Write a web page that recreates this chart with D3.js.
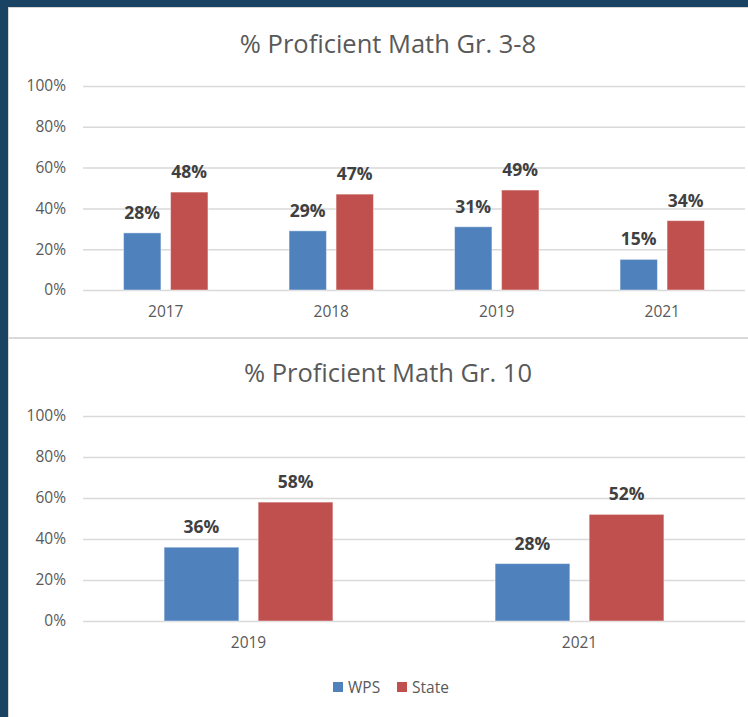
<!DOCTYPE html>
<html>
<head>
<meta charset="utf-8">
<script src="https://cdn.jsdelivr.net/npm/d3@7"></script>
<style>
  html, body { margin: 0; padding: 0; background: #fff; }
  svg { display: block; }
  text { font-family: "Open Sans", "Noto Sans", sans-serif; }
</style>
</head>
<body>
<svg id="chart" width="748" height="717"></svg>
<script>
// ---- data ----
const series = ["WPS", "State"];
const colors = ["#4f81bd", "#c0504d"];

const title1 = "% Proficient Math Gr. 3-8";
const years1 = ["2017", "2018", "2019", "2021"];
const wps1 = [28, 29, 31, 15];
const state1 = [48, 47, 49, 34];

const title2 = "% Proficient Math Gr. 10";
const years2 = ["2019", "2021"];
const wps2 = [36, 28];
const state2 = [58, 52];

const yTicks = [0, 20, 40, 60, 80, 100];

// ---- drawing ----
const svg = d3.select("#chart");
const W = 748, H = 717;

// frame
svg.append("rect").attr("x", 0).attr("y", 0).attr("width", W).attr("height", H).attr("fill", "#1a4263");
svg.append("rect").attr("x", 8).attr("y", 7).attr("width", W - 8).attr("height", H - 7).attr("fill", "#d6d6d6");
svg.append("rect").attr("x", 9).attr("y", 8).attr("width", W - 9).attr("height", H - 8).attr("fill", "#ffffff");

// separator between charts
svg.append("rect").attr("x", 9).attr("y", 337).attr("width", W - 9).attr("height", 2).attr("fill", "#d9d9d9");

const axisFont = 15.5;

function drawChart(opts) {
  const { title, titleY, years, wps, state, y0, y1, x0, x1 } = opts;
  const g = svg.append("g");

  g.append("text")
    .attr("x", 388).attr("y", titleY)
    .attr("text-anchor", "middle")
    .attr("fill", "#595959")
    .attr("font-size", 25.5)
    .text(title);

  const y = d3.scaleLinear().domain([0, 100]).range([y0, y1]);
  const x = d3.scaleBand().domain(years).range([x0, x1]).paddingInner(0.49).paddingOuter(0.245);
  const xs = d3.scaleBand().domain(series).range([0, x.bandwidth()]).paddingInner(0.205);

  // gridlines + y labels via axis
  const yAxis = d3.axisLeft(y)
    .tickValues(yTicks)
    .tickSize(-(x1 - x0))
    .tickPadding(17)
    .tickFormat(d => d + "%");
  const ya = g.append("g").attr("transform", `translate(${x0},0)`).call(yAxis);
  ya.select(".domain").remove();
  ya.selectAll(".tick line").attr("stroke", "#d9d9d9").attr("stroke-width", 1.5);
  ya.selectAll(".tick text").attr("fill", "#595959").attr("font-size", axisFont)
    .attr("font-family", "'Open Sans', sans-serif");

  // x axis labels
  const xAxis = d3.axisBottom(x).tickSize(0).tickPadding(16);
  const xa = g.append("g").attr("transform", `translate(0,${y0})`).call(xAxis);
  xa.select(".domain").remove();
  xa.selectAll(".tick text").attr("fill", "#595959").attr("font-size", axisFont)
    .attr("font-family", "'Open Sans', sans-serif");

  const rows = years.map((yr, i) => ({ yr, vals: [wps[i], state[i]] }));
  const grp = g.selectAll(".grp").data(rows).join("g")
    .attr("transform", d => `translate(${x(d.yr)},0)`);

  const bars = grp.selectAll("g.bar").data(d => d.vals.map((v, j) => ({ s: series[j], v, c: colors[j] })))
    .join("g").attr("class", "bar");

  bars.append("rect")
    .attr("x", d => xs(d.s))
    .attr("width", xs.bandwidth())
    .attr("y", d => y(d.v))
    .attr("height", d => y(0) - y(d.v))
    .attr("fill", d => d.c)
    .attr("stroke", "rgba(255,255,255,0.45)")
    .attr("stroke-width", 1);

  bars.append("text")
    .attr("x", d => xs(d.s) + xs.bandwidth() / 2)
    .attr("y", d => y(d.v) - 14)
    .attr("text-anchor", "middle")
    .attr("fill", "#404040")
    .attr("font-size", 17.5)
    .attr("font-weight", "bold")
    .text(d => d.v + "%");
}

drawChart({ title: title1, titleY: 53, years: years1, wps: wps1, state: state1, y0: 290, y1: 86, x0: 83, x1: 745 });
drawChart({ title: title2, titleY: 382, years: years2, wps: wps2, state: state2, y0: 621, y1: 416, x0: 83, x1: 745 });

// legend
const legendX = [333, 397];
const lg = svg.append("g").selectAll("g").data(series).join("g")
  .attr("transform", (d, i) => `translate(${legendX[i]},682)`);
lg.append("rect").attr("width", 10).attr("height", 10).attr("fill", (d, i) => colors[i]);
lg.append("text").attr("x", 15).attr("y", 10.5).attr("fill", "#595959").attr("font-size", axisFont).text(d => d);
</script>
</body>
</html>
